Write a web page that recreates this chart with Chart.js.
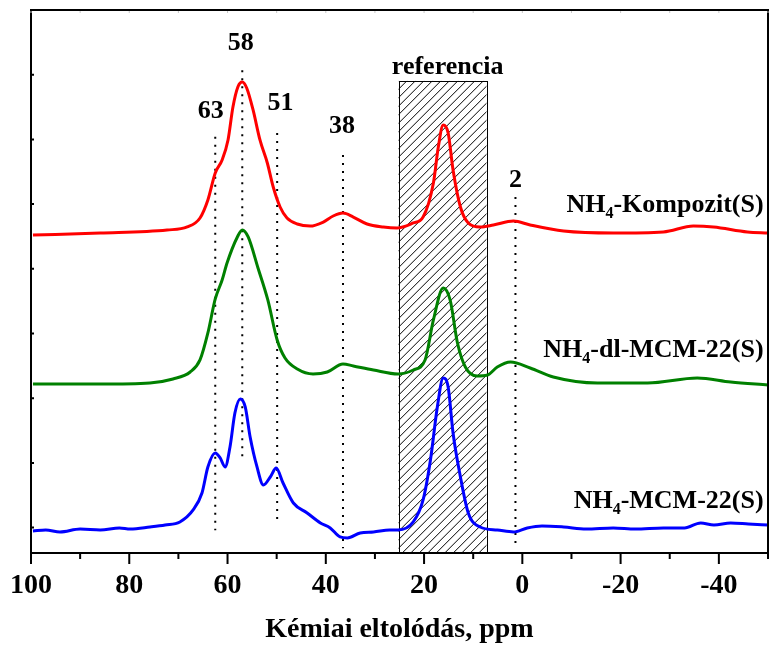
<!DOCTYPE html>
<html><head><meta charset="utf-8">
<script src="https://cdn.jsdelivr.net/npm/chart.js@4.4.1/dist/chart.umd.min.js"></script>
<style>html,body{margin:0;padding:0;background:#fff}</style>
</head><body>
<canvas id="c" width="769" height="650" style="display:block;width:769px;height:650px"></canvas>
<script>
// ---- data (chemical shift in ppm, intensity in arbitrary units; each y tick = 1 unit) ----
const seriesNames = ['NH4-Kompozit(S)', 'NH4-dl-MCM-22(S)', 'NH4-MCM-22(S)'];

const kompozitPpm = [99.6,85.9,72.3,68.2,65.6,64.0,62.5,61.1,59.9,58.9,57.9,57.0,56.1,54.8,53.4,51.9,50.7,49.3,47.9,45.8,43.2,40.5,38.5,36.5,34.4,31.6,28.3,25.5,22.2,20.2,18.1,17.1,16.1,15.1,14.1,12.6,11.0,8.6,5.9,1.8,-1.6,-8.4,-18.5,-28.7,-34.8,-38.9,-45.8,-50.0];
const kompozitVal = [4.522,4.553,4.600,4.646,4.785,5.063,5.481,5.682,5.991,6.501,6.810,6.887,6.795,6.455,5.991,5.635,5.264,4.955,4.785,4.692,4.661,4.723,4.816,4.862,4.800,4.692,4.646,4.631,4.708,4.800,5.326,5.883,6.223,6.099,5.527,4.955,4.708,4.646,4.677,4.739,4.677,4.584,4.553,4.569,4.661,4.646,4.569,4.553];

const dlPpm = [99.6,85.9,75.8,71.1,67.6,65.6,64.0,62.5,61.1,60.1,58.0,57.0,55.8,53.8,51.8,49.9,48.3,45.8,42.6,39.7,36.5,34.4,30.3,25.3,22.2,19.8,18.1,16.1,14.7,13.2,11.6,9.2,7.1,5.1,2.4,-1.6,-6.3,-15.3,-25.5,-35.6,-42.4,-50.0];
const dlVal = [2.219,2.219,2.235,2.297,2.405,2.591,3.008,3.534,3.827,4.090,4.492,4.600,4.492,4.012,3.518,2.900,2.621,2.451,2.374,2.405,2.529,2.498,2.436,2.374,2.436,2.591,3.209,3.703,3.518,2.853,2.482,2.343,2.358,2.482,2.560,2.467,2.328,2.235,2.235,2.312,2.250,2.204];

const mcmPpm = [99.6,97.0,94.1,90.0,85.9,82.0,79.8,75.8,72.7,69.7,67.0,65.2,64.0,62.5,61.5,60.5,59.5,58.5,57.4,56.4,55.4,54.0,52.7,51.3,50.1,48.7,46.6,43.8,41.1,39.1,37.1,35.6,33.0,30.3,27.0,25.3,22.2,20.2,18.7,17.3,16.1,15.1,14.1,12.6,11.0,8.6,5.1,1.8,-1.0,-4.0,-8.4,-13.0,-18.5,-23.0,-28.7,-33.0,-36.3,-39.0,-42.4,-46.0,-50.0];
const mcmVal = [-0.053,-0.037,-0.068,-0.022,-0.037,-0.006,-0.022,0.009,0.040,0.087,0.272,0.535,0.937,1.153,1.076,0.937,1.246,1.771,1.988,1.864,1.400,0.937,0.658,0.782,0.921,0.689,0.380,0.226,0.071,-0.006,-0.145,-0.161,-0.083,-0.068,-0.037,-0.037,0.087,0.427,1.045,1.864,2.312,2.173,1.462,0.782,0.226,0.009,-0.037,-0.068,-0.006,0.025,0.009,-0.022,-0.006,-0.022,-0.006,-0.006,0.071,0.040,0.071,0.056,0.040];

// peak markers (dotted verticals) and their labels
const markerPpm    = [62.5, 57.0, 49.9, 36.5, 1.4];
const markerTop    = [6.04, 7.07, 6.10, 5.76, 5.11];
const markerBottom = [-0.04, 1.01, 0.04, -0.32, -0.24];
const peakLabels   = ['58', '63', '51', '38', '2'];
const peakLabelPpm = [57.3, 63.4, 49.2, 36.7, 1.4];
const peakLabelY   = [7.38, 6.33, 6.45, 6.10, 5.26];

// reference band
const refLabel = 'referencia';
const refFrom = 25.2, refTo = 7.3, refTop = 6.907;
const refLabelPpm = 15.2, refLabelY = 7.01;

// series labels (right-aligned)
const seriesLabelPpm = -49.1;
const seriesLabelY = [4.88, 2.64, 0.30];

// axes
const xMin = -50, xMax = 100;
const xMajorTicks = [100, 80, 60, 40, 20, 0, -20, -40];
const xMinorTicks = [90, 70, 50, 30, 10, -10, -30, -50];
const yMin = -0.393, yMax = 8;
const yTicks = [0, 1, 2, 3, 4, 5, 6, 7, 8];
const xTitle = 'Kémiai eltolódás, ppm';

// ---- build ----
const FONT = '"Liberation Serif", "Times New Roman", serif';
const toPts = (xs, ys) => xs.map((v, i) => ({x: v, y: ys[i]}));
const colors = ['#ff0000', '#008000', '#0000ff'];
const curveData = [toPts(kompozitPpm, kompozitVal), toPts(dlPpm, dlVal), toPts(mcmPpm, mcmVal)];

const datasets = curveData.map((d, i) => ({
  label: seriesNames[i], data: d, borderColor: colors[i], borderWidth: 3,
  pointRadius: 0, cubicInterpolationMode: 'monotone', fill: false, order: 0
}));
markerPpm.forEach((p, i) => datasets.push({
  label: 'm' + i, data: [{x: p, y: markerTop[i]}, {x: p, y: markerBottom[i]}],
  borderColor: '#000', borderWidth: 2, borderDash: [2, 6], pointRadius: 0, order: 2
}));

function drawSubLabel(ctx, text, xRight, yBase) {
  const m = text.match(/^(NH)(4)(.*)$/);
  const big = 'bold 26px ' + FONT, small = 'bold 16px ' + FONT;
  ctx.font = big; const w1 = ctx.measureText(m[1]).width, w3 = ctx.measureText(m[3]).width;
  ctx.font = small; const w2 = ctx.measureText(m[2]).width;
  let x0 = xRight - (w1 + w2 + w3);
  ctx.textAlign = 'left'; ctx.textBaseline = 'alphabetic';
  ctx.font = big; ctx.fillText(m[1], x0, yBase);
  ctx.font = small; ctx.fillText(m[2], x0 + w1, yBase + 6);
  ctx.font = big; ctx.fillText(m[3], x0 + w1 + w2, yBase);
}

const decor = {
  id: 'decor',
  beforeDatasetsDraw(chart) {
    const {ctx, scales: {x, y}} = chart;
    const x1 = x.getPixelForValue(refFrom), x2 = x.getPixelForValue(refTo);
    const yt = y.getPixelForValue(refTop), yb = y.getPixelForValue(yMin);
    const l = Math.min(x1, x2), r = Math.max(x1, x2), h = yb - yt;
    ctx.save();
    ctx.beginPath(); ctx.rect(l, yt, r - l, h); ctx.clip();
    ctx.strokeStyle = '#000'; ctx.lineWidth = 1;
    ctx.beginPath();
    for (let s = l - h; s < r + 10; s += 8.5) { ctx.moveTo(s, yb); ctx.lineTo(s + h, yt); }
    ctx.stroke();
    ctx.restore();
    ctx.save(); ctx.strokeStyle = '#000'; ctx.lineWidth = 1;
    ctx.strokeRect(Math.round(l) + 0.5, Math.round(yt) + 0.5, Math.round(r - l), Math.round(h));
    ctx.restore();
  },
  afterDraw(chart) {
    const {ctx, chartArea: ca, scales: {x, y}} = chart;
    ctx.save();
    ctx.strokeStyle = '#000'; ctx.lineWidth = 2;
    ctx.beginPath();
    ctx.moveTo(ca.left, ca.top); ctx.lineTo(ca.right, ca.top); ctx.lineTo(ca.right, ca.bottom);
    ctx.stroke();
    ctx.beginPath();
    xMajorTicks.forEach(v => { const px = x.getPixelForValue(v); ctx.moveTo(px, ca.bottom); ctx.lineTo(px, ca.bottom + 11); });
    xMinorTicks.forEach(v => { const px = x.getPixelForValue(v); ctx.moveTo(px, ca.bottom); ctx.lineTo(px, ca.bottom + 6); });
    ctx.stroke();
    ctx.beginPath();
    yTicks.forEach(v => { const py = y.getPixelForValue(v); ctx.moveTo(ca.left, py); ctx.lineTo(ca.left + 3, py); });
    ctx.stroke();
    ctx.strokeStyle = '#c8c8c8'; ctx.lineWidth = 1;
    ctx.beginPath();
    xMinorTicks.concat(xMajorTicks).forEach(v => { const px = x.getPixelForValue(v); ctx.moveTo(px, ca.top + 1); ctx.lineTo(px, ca.top + 3); });
    ctx.stroke();
    ctx.fillStyle = '#000';
    ctx.font = 'bold 26px ' + FONT; ctx.textAlign = 'center'; ctx.textBaseline = 'alphabetic';
    peakLabels.forEach((t, i) => ctx.fillText(t, x.getPixelForValue(peakLabelPpm[i]), y.getPixelForValue(peakLabelY[i])));
    ctx.fillText(refLabel, x.getPixelForValue(refLabelPpm), y.getPixelForValue(refLabelY));
    seriesNames.forEach((t, i) => drawSubLabel(ctx, t, x.getPixelForValue(seriesLabelPpm), y.getPixelForValue(seriesLabelY[i])));
    ctx.restore();
  }
};

new Chart(document.getElementById('c'), {
  type: 'line',
  data: {datasets},
  options: {
    responsive: false, animation: false, devicePixelRatio: 1,
    layout: {padding: {top: 10, right: 1, left: 0, bottom: 0}},
    plugins: {legend: {display: false}, tooltip: {enabled: false}},
    scales: {
      x: {
        type: 'linear', reverse: true, min: xMin, max: xMax,
        afterBuildTicks: s => { s.ticks = xMajorTicks.map(v => ({value: v})); },
        afterFit: s => { s.height = 97; s.paddingLeft = 0; s.paddingRight = 0; },
        grid: {display: false, drawTicks: false},
        border: {display: true, color: '#000', width: 2},
        ticks: {color: '#000', padding: 16, maxRotation: 0, autoSkip: false,
                font: {family: FONT, size: 28, weight: 'bold'}},
        title: {display: true, text: xTitle, color: '#000', padding: {top: 0, bottom: 3},
                font: {family: FONT, size: 28, weight: 'bold'}}
      },
      y: {
        type: 'linear', min: yMin, max: yMax,
        afterBuildTicks: s => { s.ticks = yTicks.map(v => ({value: v})); },
        afterFit: s => { s.width = 31; s.paddingTop = 0; s.paddingBottom = 0; },
        grid: {display: false, drawTicks: false},
        border: {display: true, color: '#000', width: 2},
        ticks: {display: false}
      }
    }
  },
  plugins: [decor]
});
</script>
</body></html>
